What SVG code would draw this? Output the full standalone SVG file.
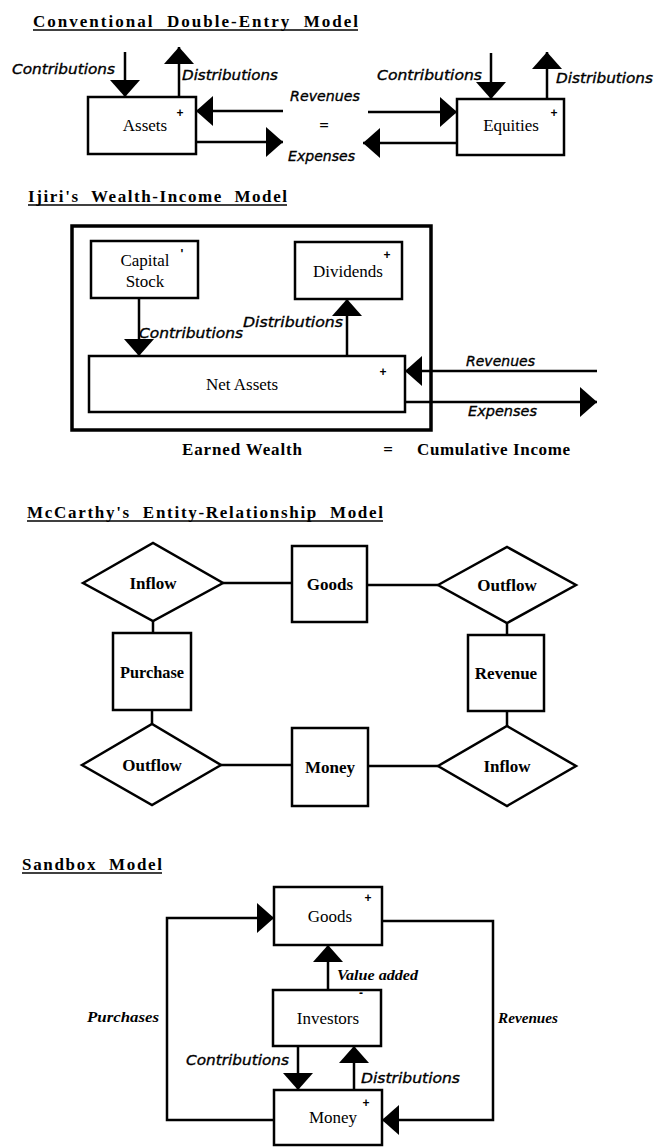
<svg xmlns="http://www.w3.org/2000/svg" width="655" height="1147" viewBox="0 0 655 1147">
<style>
.box{fill:#fff;stroke:#000;stroke-width:2.5}
.frame{fill:none;stroke:#000;stroke-width:3.5}
.conn{fill:none;stroke:#000;stroke-width:2.5}
.arr{marker-end:url(#ah)}
.ul{stroke:#000;stroke-width:1.6}
.lbl{font-family:"Liberation Serif",serif;font-size:17px;text-anchor:middle;fill:#000}
.er{font-family:"Liberation Serif",serif;font-size:17px;font-weight:bold;text-anchor:middle;fill:#000}
.flow{font-family:"DejaVu Sans",sans-serif;font-style:italic;font-size:14px;fill:#000;stroke:#000;stroke-width:0.35}
.flow2{font-family:"Liberation Serif",serif;font-style:italic;font-weight:bold;font-size:15px;fill:#000}
.title{font-family:"Liberation Serif",serif;font-weight:bold;font-size:17px;white-space:pre;fill:#000}
.sign{font-family:"Liberation Sans",sans-serif;font-weight:bold;font-size:12px;text-anchor:middle;fill:#000}
.eq{font-family:"Liberation Serif",serif;font-weight:bold;font-size:17px;fill:#000}
</style>
<defs>
<marker id="ah" markerUnits="userSpaceOnUse" markerWidth="17" markerHeight="30" viewBox="0 0 17 30" refX="17" refY="15" orient="auto">
<path d="M0,0 L17,15 L0,30 Z" fill="#000"/>
</marker>
</defs>
<rect width="655" height="1147" fill="#fff"/>

<!-- Titles -->
<g id="titles">
<text class="title" x="33" y="27" textLength="325" lengthAdjust="spacing" xml:space="preserve">Conventional  Double-Entry  Model</text>
<line class="ul" x1="33" y1="30" x2="358" y2="30"/>
<text class="title" x="28" y="202" textLength="259" lengthAdjust="spacing" xml:space="preserve">Ijiri's  Wealth-Income  Model</text>
<line class="ul" x1="28" y1="205" x2="287" y2="205"/>
<text class="title" x="27" y="518" textLength="356" lengthAdjust="spacing" xml:space="preserve">McCarthy's  Entity-Relationship  Model</text>
<line class="ul" x1="27" y1="521" x2="383" y2="521"/>
<text class="title" x="22" y="870" textLength="140" lengthAdjust="spacing" xml:space="preserve">Sandbox  Model</text>
<line class="ul" x1="22" y1="873" x2="162" y2="873"/>
</g>

<!-- Section 1: Conventional -->
<g id="assets">
<rect class="box" x="88" y="97" width="108" height="57"/>
<text class="lbl" x="145" y="131">Assets</text>
<text class="sign" x="180" y="117">+</text>
</g>
<g id="equities">
<rect class="box" x="457" y="99" width="107" height="56"/>
<text class="lbl" x="511" y="131">Equities</text>
<text class="sign" x="554" y="117">+</text>
</g>

<!-- Section 2: Ijiri -->
<g id="ijiri-frame">
<rect class="frame" x="72" y="226" width="359" height="204"/>
</g>
<g id="capital-stock">
<rect class="box" x="91" y="241" width="107" height="57"/>
<text class="lbl" x="145" y="266">Capital</text>
<text class="lbl" x="145" y="287">Stock</text>
<text class="sign" x="182" y="258">'</text>
</g>
<g id="dividends">
<rect class="box" x="295" y="242" width="107" height="57"/>
<text class="lbl" x="348" y="277">Dividends</text>
<text class="sign" x="387" y="259">+</text>
</g>
<g id="net-assets">
<rect class="box" x="89" y="356" width="316" height="56"/>
<text class="lbl" x="242" y="390">Net Assets</text>
<text class="sign" x="383" y="376">+</text>
</g>
<g id="ijiri-equation">
<text class="eq" x="182" y="455" textLength="120" lengthAdjust="spacing">Earned Wealth</text>
<text class="eq" x="388" y="455" text-anchor="middle">=</text>
<text class="eq" x="417" y="455" textLength="153" lengthAdjust="spacing">Cumulative Income</text>
</g>

<!-- Section 3: McCarthy -->
<g id="inflow-1">
<polygon class="box" points="83,583 153,543 223,583 153,621"/>
<text class="er" x="153" y="589">Inflow</text>
</g>
<g id="goods-1">
<rect class="box" x="292" y="546" width="75" height="76"/>
<text class="er" x="330" y="590">Goods</text>
</g>
<g id="outflow-1">
<polygon class="box" points="438,585 507,547 576,585 507,623"/>
<text class="er" x="507" y="591">Outflow</text>
</g>
<g id="purchase">
<rect class="box" x="113" y="633" width="78" height="77"/>
<text class="er" x="152" y="678" textLength="64" lengthAdjust="spacingAndGlyphs">Purchase</text>
</g>
<g id="revenue">
<rect class="box" x="468" y="635" width="76" height="76"/>
<text class="er" x="506" y="679">Revenue</text>
</g>
<g id="outflow-2">
<polygon class="box" points="82,765 152,724 221,765 152,805"/>
<text class="er" x="152" y="771">Outflow</text>
</g>
<g id="money-1">
<rect class="box" x="292" y="728" width="76" height="78"/>
<text class="er" x="330" y="773">Money</text>
</g>
<g id="inflow-2">
<polygon class="box" points="438,766 507,726 576,766 507,806"/>
<text class="er" x="507" y="772">Inflow</text>
</g>

<!-- Section 4: Sandbox -->
<g id="goods-2">
<rect class="box" x="274" y="887" width="108" height="58"/>
<text class="lbl" x="330" y="922">Goods</text>
<text class="sign" x="368" y="902">+</text>
</g>
<g id="investors">
<rect class="box" x="273" y="990" width="108" height="56"/>
<text class="lbl" x="328" y="1024">Investors</text>
<text class="sign" x="361" y="997">-</text>
</g>
<g id="money-2">
<rect class="box" x="274" y="1090" width="108" height="55"/>
<text class="lbl" x="333" y="1123">Money</text>
<text class="sign" x="366" y="1107">+</text>
</g>

<!-- Connectors -->
<g id="connectors">
<!-- Conventional -->
<line class="conn arr" x1="125" y1="52" x2="125" y2="97"/>
<line class="conn arr" x1="179" y1="97" x2="179" y2="47"/>
<line class="conn arr" x1="283" y1="111" x2="196" y2="111"/>
<line class="conn arr" x1="196" y1="142" x2="283" y2="142"/>
<line class="conn arr" x1="491" y1="53" x2="491" y2="99"/>
<line class="conn arr" x1="547" y1="99" x2="547" y2="52"/>
<line class="conn arr" x1="368" y1="112" x2="457" y2="112"/>
<line class="conn arr" x1="457" y1="143" x2="363" y2="143"/>
<text class="flow" x="12" y="74" textLength="103" lengthAdjust="spacingAndGlyphs">Contributions</text>
<text class="flow" x="182" y="80" textLength="96" lengthAdjust="spacingAndGlyphs">Distributions</text>
<text class="flow" x="290" y="101" textLength="70" lengthAdjust="spacingAndGlyphs">Revenues</text>
<text class="eq" x="324" y="131" text-anchor="middle">=</text>
<text class="flow" x="288" y="161" textLength="67" lengthAdjust="spacingAndGlyphs">Expenses</text>
<text class="flow" x="377" y="80" textLength="105" lengthAdjust="spacingAndGlyphs">Contributions</text>
<text class="flow" x="556" y="83" textLength="97" lengthAdjust="spacingAndGlyphs">Distributions</text>
<!-- Ijiri -->
<line class="conn arr" x1="139" y1="298" x2="139" y2="356"/>
<line class="conn arr" x1="347" y1="356" x2="347" y2="299"/>
<line class="conn arr" x1="597" y1="371" x2="405" y2="371"/>
<line class="conn arr" x1="405" y1="402" x2="597" y2="402"/>
<text class="flow" x="139" y="338" textLength="104" lengthAdjust="spacingAndGlyphs">Contributions</text>
<text class="flow" x="243" y="327" textLength="100" lengthAdjust="spacingAndGlyphs">Distributions</text>
<text class="flow" x="466" y="366" textLength="69" lengthAdjust="spacingAndGlyphs">Revenues</text>
<text class="flow" x="468" y="416" textLength="69" lengthAdjust="spacingAndGlyphs">Expenses</text>
<!-- McCarthy -->
<line class="conn" x1="223" y1="583" x2="292" y2="583"/>
<line class="conn" x1="367" y1="585" x2="438" y2="585"/>
<line class="conn" x1="507" y1="623" x2="507" y2="635"/>
<line class="conn" x1="507" y1="711" x2="507" y2="726"/>
<line class="conn" x1="153" y1="621" x2="153" y2="633"/>
<line class="conn" x1="152" y1="710" x2="152" y2="724"/>
<line class="conn" x1="221" y1="765" x2="292" y2="765"/>
<line class="conn" x1="368" y1="766" x2="438" y2="766"/>
<!-- Sandbox -->
<polyline class="conn arr" points="274,1120 167,1120 167,918 274,918"/>
<polyline class="conn arr" points="382,921 493,921 493,1120 382,1120"/>
<line class="conn arr" x1="328" y1="990" x2="328" y2="945"/>
<line class="conn arr" x1="298" y1="1046" x2="298" y2="1090"/>
<line class="conn arr" x1="354" y1="1090" x2="354" y2="1046"/>
<text class="flow2" x="337" y="980" textLength="81" lengthAdjust="spacingAndGlyphs">Value added</text>
<text class="flow2" x="87" y="1022" textLength="72" lengthAdjust="spacingAndGlyphs">Purchases</text>
<text class="flow2" x="498" y="1023" textLength="60" lengthAdjust="spacingAndGlyphs">Revenues</text>
<text class="flow" x="186" y="1065" textLength="103" lengthAdjust="spacingAndGlyphs">Contributions</text>
<text class="flow" x="361" y="1083" textLength="99" lengthAdjust="spacingAndGlyphs">Distributions</text>
</g>
</svg>
